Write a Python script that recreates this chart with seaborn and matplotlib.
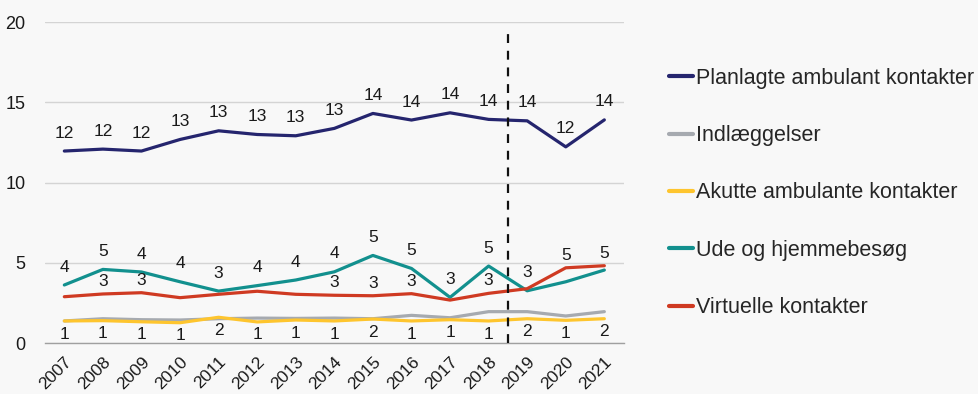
import numpy as np
import pandas as pd
import matplotlib
matplotlib.use("Agg")
import matplotlib.pyplot as plt
from matplotlib.ticker import FixedLocator
import seaborn as sns

years = list(range(2007, 2022))

planlagte = [11.97, 12.09, 11.97, 12.69, 13.23, 13.00, 12.92, 13.38, 14.31, 13.90, 14.35, 13.94, 13.85, 12.23, 13.91]
indlaeggelser = [1.39, 1.53, 1.47, 1.45, 1.53, 1.57, 1.55, 1.57, 1.53, 1.74, 1.59, 1.97, 1.97, 1.70, 1.97]
akutte = [1.39, 1.41, 1.34, 1.28, 1.62, 1.33, 1.45, 1.39, 1.51, 1.39, 1.47, 1.39, 1.53, 1.43, 1.53]
ude_hjemme = [3.63, 4.60, 4.44, 3.83, 3.25, 3.59, 3.94, 4.45, 5.47, 4.66, 2.86, 4.81, 3.27, 3.83, 4.56]
virtuelle = [2.90, 3.07, 3.15, 2.84, 3.05, 3.24, 3.05, 2.99, 2.96, 3.09, 2.69, 3.11, 3.40, 4.70, 4.83]

series_names = [
    "Planlagte ambulant kontakter",
    "Indlæggelser",
    "Akutte ambulante kontakter",
    "Ude og hjemmebesøg",
    "Virtuelle kontakter",
]
series_values = [planlagte, indlaeggelser, akutte, ude_hjemme, virtuelle]
colors = ["#25256e", "#a6aab0", "#fec52e", "#12908e", "#cf3a22"]

# years that carry a rounded value label, per series: (flags, offset in points)
labels_above = {
    "Planlagte ambulant kontakter": ([True] * 15, 7.5),
    "Ude og hjemmebesøg": ([True] * 13 + [False, False], 7.5),
    "Virtuelle kontakter": ([False, True, True, False, False, False, False,
                             True, True, True, False, True, False, True, True], 3.5),
}
labels_below = {
    "Akutte ambulante kontakter": ([True] * 15, -4),
}

split_year = 2018.5

df = pd.DataFrame({
    "År": np.tile(years, len(series_names)),
    "Serie": np.repeat(series_names, len(years)),
    "Antal": np.concatenate(series_values),
})

sns.set_theme(style="white")
plt.rcParams["font.family"] = ["Liberation Sans", "DejaVu Sans"]
bg = "#f8f8f8"

fig = plt.figure(figsize=(9.79, 3.94), dpi=100, facecolor=bg)
ax = fig.add_axes([0.046, 0.1287, 0.591, 0.8153])
ax.set_facecolor(bg)

sns.lineplot(data=df, x="År", y="Antal", hue="Serie", hue_order=series_names,
             palette=colors, linewidth=2.3, ax=ax, legend=False, sort=False)

# value labels
for name, vals in zip(series_names, series_values):
    for table, va in ((labels_above, "bottom"), (labels_below, "top")):
        if name in table:
            flags, off = table[name]
            for yr, v, s in zip(years, vals, flags):
                if s:
                    ax.annotate(f"{v:.0f}", (yr, v), xytext=(0, off),
                                textcoords="offset points", ha="center", va=va,
                                fontsize=12.5, color="#1a1a1a")

ax.axvline(split_year, ymin=0, ymax=0.984, color="#111111", linewidth=1.6,
           dashes=(4, 3.5))

ax.set_xlim(2006.5, 2021.5)
ax.set_ylim(0, 20)
ax.set_yticks([0, 5, 10, 15, 20])
ax.set_xticks(years)
ax.set_xticklabels([str(y) for y in years], rotation=45, ha="right",
                   rotation_mode="anchor", fontsize=12.5, color="#1a1a1a")
ax.xaxis.set_minor_locator(FixedLocator(np.arange(2006.5, 2022.0, 1.0)))
ax.tick_params(axis="x", which="major", length=0, pad=8)
ax.tick_params(axis="x", which="minor", length=5, color="#a0a0a0", width=1, direction="out")
ax.tick_params(axis="y", length=0, labelsize=13, labelcolor="#1a1a1a", pad=14)
ax.grid(axis="y", color="#d4d4d4", linewidth=1)
ax.set_axisbelow(True)
for side in ["left", "right", "top"]:
    ax.spines[side].set_visible(False)
ax.spines["bottom"].set_color("#a0a0a0")
ax.spines["bottom"].set_linewidth(1)
ax.spines["bottom"].set_zorder(0.5)
ax.set_xlabel("")
ax.set_ylabel("")

handles = [plt.Line2D([0], [0], color=c, linewidth=3) for c in colors]
fig.legend(handles, series_names, loc="upper left", bbox_to_anchor=(0.675, 0.85),
           frameon=False, fontsize=15.5, handlelength=1.1, handletextpad=0.15,
           labelspacing=1.69, borderaxespad=0)

fig.savefig("out.png", dpi=100, facecolor=bg)
